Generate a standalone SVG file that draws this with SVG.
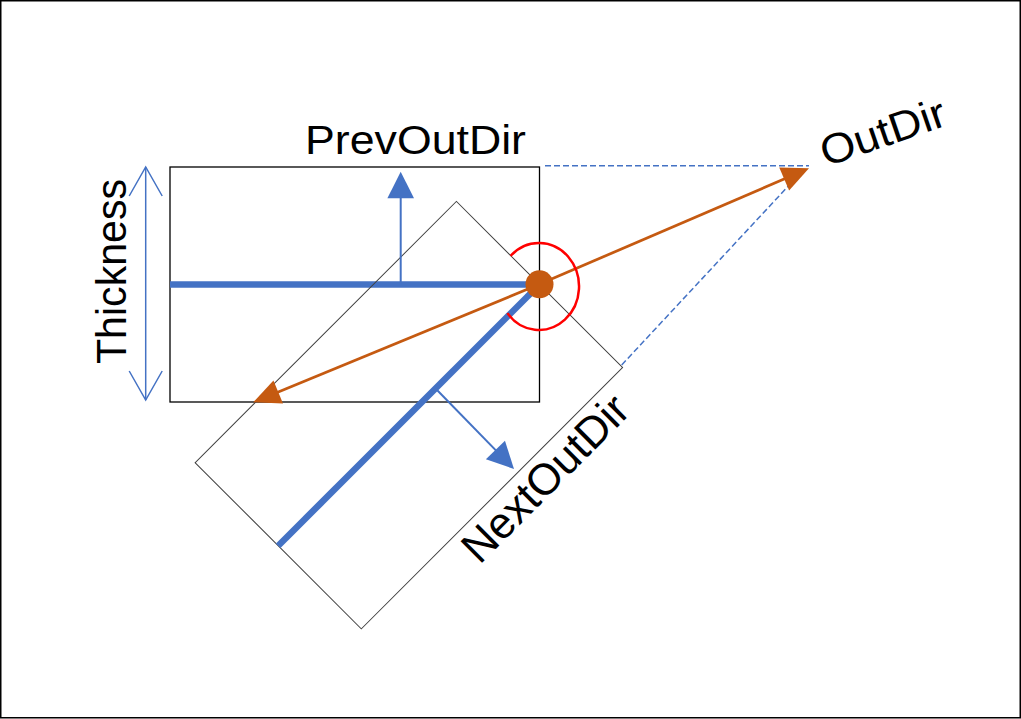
<svg xmlns="http://www.w3.org/2000/svg" width="1021" height="719" viewBox="0 0 1021 719">
<style>
.txt{font-family:"Liberation Sans",Arial,sans-serif;fill:#000}
.thick{stroke:#4472C4;stroke-width:6.5;fill:none}
.blue{stroke:#4472C4;stroke-width:2;fill:none}
.dash{stroke:#4472C4;stroke-width:1.5;stroke-dasharray:6 3;fill:none}
.orange{stroke:#C55A11;stroke-width:2.75;fill:none}
</style>
<defs>
<marker id="oh" markerUnits="userSpaceOnUse" markerWidth="30" markerHeight="30" refX="17" refY="12.5" orient="auto" overflow="visible">
<path d="M0,0 L27,12.5 L0,25 z" fill="#C55A11"/>
</marker>
<marker id="bh" markerUnits="userSpaceOnUse" markerWidth="30" markerHeight="30" refX="21.6" refY="13.3" orient="auto" overflow="visible">
<path d="M0,0 L26.6,13.3 L0,26.6 z" fill="#4472C4"/>
</marker>
<marker id="vh" markerUnits="userSpaceOnUse" markerWidth="34" markerHeight="34" refX="29" refY="16.5" orient="auto-start-reverse" overflow="visible">
<path d="M0,0 L29,16.5 L0,33" fill="none" stroke="#4472C4" stroke-width="1.5"/>
</marker>
</defs>
<rect x="0.75" y="0.75" width="1019.5" height="717" fill="#fff" stroke="#000" stroke-width="1.5"/>

<g id="prev-segment">
<rect x="170" y="167" width="369.5" height="235" fill="none" stroke="#000" stroke-width="1.3"/>
<line class="thick" x1="170" y1="284.5" x2="539.5" y2="284.5"/>
</g>
<g id="next-segment" transform="rotate(-45 539.5 284.5)">
<rect x="170" y="167" width="369.5" height="235" fill="none" stroke="#404040" stroke-width="1"/>
<line class="thick" x1="170" y1="284.5" x2="539.5" y2="284.5"/>
</g>

<g id="connectors">
<line class="blue" x1="400.7" y1="284.5" x2="400.7" y2="176.7" marker-end="url(#bh)"/>
<line class="blue" x1="437" y1="390" x2="510.5" y2="465.4" marker-end="url(#bh)"/>
<line x1="145.7" y1="167" x2="145.7" y2="400" stroke="#4472C4" stroke-width="1.5" marker-start="url(#vh)" marker-end="url(#vh)"/>
<line class="dash" x1="545" y1="165.7" x2="809" y2="165.7"/>
<line class="dash" x1="621.7" y1="365" x2="801.7" y2="171.7"/>
<line class="orange" x1="539.3" y1="284.3" x2="799.8" y2="172.3" marker-end="url(#oh)"/>
<line class="orange" x1="539.3" y1="284.3" x2="262.5" y2="398.5" marker-end="url(#oh)"/>
</g>

<g id="joint">
<path d="M510.6,255.9 A40,43.5 0 1 1 507.4,313.1" fill="none" stroke="#FF0000" stroke-width="2.5"/>
<circle cx="539.5" cy="284.3" r="14" fill="#C55A11"/>
</g>

<g id="labels">
<text class="txt" x="305" y="154.3" font-size="41" textLength="221" lengthAdjust="spacingAndGlyphs">PrevOutDir</text>
<text class="txt" transform="translate(126,271.5) rotate(-90)" text-anchor="middle" font-size="43" textLength="185" lengthAdjust="spacingAndGlyphs">Thickness</text>
<text class="txt" transform="translate(826,167) rotate(-19)" font-size="42" textLength="130" lengthAdjust="spacingAndGlyphs">OutDir</text>
<text class="txt" transform="translate(479.4,565.3) rotate(-45)" font-size="44" textLength="216" lengthAdjust="spacingAndGlyphs">NextOutDir</text>
</g>
</svg>
